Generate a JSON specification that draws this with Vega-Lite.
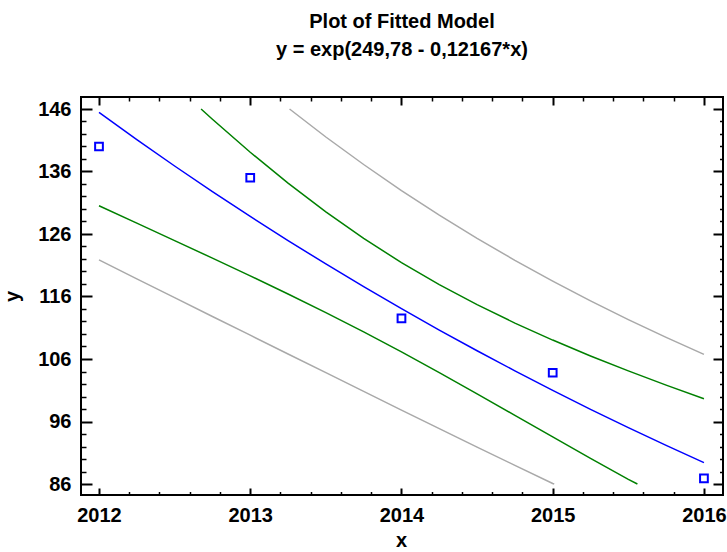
{
  "$schema": "https://vega.github.io/schema/vega-lite/v6.json",
  "width": 642,
  "height": 398,
  "autosize": {"type": "none"},
  "padding": {"left": 81, "top": 97, "right": 4, "bottom": 55},
  "background": "white",
  "title": {
    "text": ["Plot of Fitted Model", "y = exp(249,78 - 0,12167*x)"],
    "anchor": "middle",
    "frame": "group",
    "font": "Liberation Sans",
    "fontSize": 20,
    "fontWeight": "bold",
    "color": "black",
    "lineHeight": 28,
    "offset": 36
  },
  "config": {
    "view": {"stroke": "black", "strokeWidth": 2},
    "axis": {
      "domain": false,
      "grid": false,
      "labelFont": "Liberation Sans",
      "labelFontSize": 20,
      "labelFontWeight": "bold",
      "labelColor": "black",
      "tickColor": "black",
      "titleFont": "Liberation Sans",
      "titleFontSize": 20,
      "titleFontWeight": "bold",
      "titleColor": "black"
    }
  },
  "datasets": {
    "fit": [
      {"x": 2012.0, "y": 145.47}, {"x": 2012.25, "y": 141.11}, {"x": 2012.5, "y": 136.88},
      {"x": 2012.75, "y": 132.78}, {"x": 2013.0, "y": 128.81}, {"x": 2013.25, "y": 124.95},
      {"x": 2013.5, "y": 121.21}, {"x": 2013.75, "y": 117.58}, {"x": 2014.0, "y": 114.05},
      {"x": 2014.25, "y": 110.63}, {"x": 2014.5, "y": 107.32}, {"x": 2014.75, "y": 104.10},
      {"x": 2015.0, "y": 100.98}, {"x": 2015.25, "y": 97.95}, {"x": 2015.5, "y": 95.02},
      {"x": 2015.75, "y": 92.17}, {"x": 2016.0, "y": 89.41}
    ],
    "conf": [
      {"band": "upper", "x": 2012.675, "y": 146.0}, {"band": "upper", "x": 2012.75, "y": 144.35},
      {"band": "upper", "x": 2013.0, "y": 139.08}, {"band": "upper", "x": 2013.25, "y": 134.13},
      {"band": "upper", "x": 2013.5, "y": 129.53}, {"band": "upper", "x": 2013.75, "y": 125.30},
      {"band": "upper", "x": 2014.0, "y": 121.42}, {"band": "upper", "x": 2014.25, "y": 117.89},
      {"band": "upper", "x": 2014.5, "y": 114.69}, {"band": "upper", "x": 2014.75, "y": 111.75},
      {"band": "upper", "x": 2015.0, "y": 109.03}, {"band": "upper", "x": 2015.25, "y": 106.49},
      {"band": "upper", "x": 2015.5, "y": 104.10}, {"band": "upper", "x": 2015.75, "y": 101.82},
      {"band": "upper", "x": 2016.0, "y": 99.65},
      {"band": "lower", "x": 2012.0, "y": 130.52}, {"band": "lower", "x": 2012.25, "y": 127.73},
      {"band": "lower", "x": 2012.5, "y": 124.94}, {"band": "lower", "x": 2012.75, "y": 122.14},
      {"band": "lower", "x": 2013.0, "y": 119.30}, {"band": "lower", "x": 2013.25, "y": 116.40},
      {"band": "lower", "x": 2013.5, "y": 113.42}, {"band": "lower", "x": 2013.75, "y": 110.34},
      {"band": "lower", "x": 2014.0, "y": 107.13}, {"band": "lower", "x": 2014.25, "y": 103.82},
      {"band": "lower", "x": 2014.5, "y": 100.42}, {"band": "lower", "x": 2014.75, "y": 96.98},
      {"band": "lower", "x": 2015.0, "y": 93.53}, {"band": "lower", "x": 2015.25, "y": 90.10},
      {"band": "lower", "x": 2015.5, "y": 86.73}, {"band": "lower", "x": 2015.56, "y": 86.0}
    ],
    "pred": [
      {"band": "upper", "x": 2013.26, "y": 146.0}, {"band": "upper", "x": 2013.5, "y": 141.52},
      {"band": "upper", "x": 2013.75, "y": 137.12}, {"band": "upper", "x": 2014.0, "y": 132.95},
      {"band": "upper", "x": 2014.25, "y": 129.02}, {"band": "upper", "x": 2014.5, "y": 125.31},
      {"band": "upper", "x": 2014.75, "y": 121.79}, {"band": "upper", "x": 2015.0, "y": 118.46},
      {"band": "upper", "x": 2015.25, "y": 115.30}, {"band": "upper", "x": 2015.5, "y": 112.30},
      {"band": "upper", "x": 2015.75, "y": 109.45}, {"band": "upper", "x": 2016.0, "y": 106.73},
      {"band": "lower", "x": 2012.0, "y": 121.86}, {"band": "lower", "x": 2012.25, "y": 118.83},
      {"band": "lower", "x": 2012.5, "y": 115.81}, {"band": "lower", "x": 2012.75, "y": 112.80},
      {"band": "lower", "x": 2013.0, "y": 109.81}, {"band": "lower", "x": 2013.25, "y": 106.80},
      {"band": "lower", "x": 2013.5, "y": 103.81}, {"band": "lower", "x": 2013.75, "y": 100.82},
      {"band": "lower", "x": 2014.0, "y": 97.83}, {"band": "lower", "x": 2014.25, "y": 94.86},
      {"band": "lower", "x": 2014.5, "y": 91.91}, {"band": "lower", "x": 2014.75, "y": 88.98},
      {"band": "lower", "x": 2015.0, "y": 86.08}, {"band": "lower", "x": 2015.01, "y": 86.0}
    ],
    "obs": [
      {"x": 2012, "y": 140.0}, {"x": 2013, "y": 135.0}, {"x": 2014, "y": 112.5},
      {"x": 2015, "y": 103.8}, {"x": 2016, "y": 86.9}
    ]
  },
  "resolve": {"axis": {"x": "independent", "y": "independent"}},
  "layer": [
    {
      "data": {"name": "pred"},
      "mark": {"type": "line", "stroke": "#A9A9A9", "strokeWidth": 1.5},
      "encoding": {
        "x": {"field": "x", "type": "quantitative",
              "scale": {"domain": [2011.881, 2016.126], "nice": false, "zero": false},
              "axis": {"orient": "bottom", "values": [2012, 2013, 2014, 2015, 2016], "format": "d",
                       "tickSize": -7, "tickWidth": 2, "labelPadding": 17.5, "labelFlush": false,
                       "title": "x", "titleX": 320, "titleY": 51, "titleAlign": "center", "titleBaseline": "alphabetic"}},
        "y": {"field": "y", "type": "quantitative",
              "scale": {"domain": [84.24, 147.92], "nice": false, "zero": false},
              "axis": {"orient": "left", "values": [86, 96, 106, 116, 126, 136, 146],
                       "tickSize": -11, "tickWidth": 2, "labelPadding": 21, "labelBaseline": "middle",
                       "title": "y", "titleX": -63, "titleY": 199, "titleAngle": 270, "titleAlign": "center", "titleBaseline": "alphabetic"}},
        "detail": {"field": "band"}
      }
    },
    {
      "data": {"name": "conf"},
      "mark": {"type": "line", "stroke": "#008000", "strokeWidth": 1.5},
      "encoding": {
        "x": {"field": "x", "type": "quantitative",
              "scale": {"domain": [2011.881, 2016.126], "nice": false, "zero": false},
              "axis": {"orient": "bottom",
                       "values": [2012.2, 2012.4, 2012.6, 2012.8, 2013.2, 2013.4, 2013.6, 2013.8, 2014.2, 2014.4, 2014.6, 2014.8, 2015.2, 2015.4, 2015.6, 2015.8],
                       "tickSize": -3.5, "tickWidth": 1.5, "labels": false, "title": null}},
        "y": {"field": "y", "type": "quantitative",
              "scale": {"domain": [84.24, 147.92], "nice": false, "zero": false},
              "axis": {"orient": "left",
                       "values": [88, 90, 92, 94, 98, 100, 102, 104, 108, 110, 112, 114, 118, 120, 122, 124, 128, 130, 132, 134, 138, 140, 142, 144],
                       "tickSize": -5, "tickWidth": 1.5, "labels": false, "title": null}},
        "detail": {"field": "band"}
      }
    },
    {
      "data": {"name": "fit"},
      "mark": {"type": "line", "stroke": "#0000FF", "strokeWidth": 1.5},
      "encoding": {
        "x": {"field": "x", "type": "quantitative",
              "scale": {"domain": [2011.881, 2016.126], "nice": false, "zero": false},
              "axis": {"orient": "top", "values": [2012, 2013, 2014, 2015, 2016],
                       "tickSize": -8, "tickWidth": 2, "labels": false, "title": null}},
        "y": {"field": "y", "type": "quantitative",
              "scale": {"domain": [84.24, 147.92], "nice": false, "zero": false},
              "axis": {"orient": "right", "values": [86, 96, 106, 116, 126, 136, 146],
                       "tickSize": -10, "tickWidth": 2, "labels": false, "title": null}}
      }
    },
    {
      "data": {"name": "obs"},
      "mark": {"type": "point", "shape": "square", "filled": false, "stroke": "#0000FF", "strokeWidth": 2, "size": 60, "opacity": 1},
      "encoding": {
        "x": {"field": "x", "type": "quantitative",
              "scale": {"domain": [2011.881, 2016.126], "nice": false, "zero": false},
              "axis": {"orient": "top",
                       "values": [2012.2, 2012.4, 2012.6, 2012.8, 2013.2, 2013.4, 2013.6, 2013.8, 2014.2, 2014.4, 2014.6, 2014.8, 2015.2, 2015.4, 2015.6, 2015.8],
                       "tickSize": -4, "tickWidth": 1.5, "labels": false, "title": null}},
        "y": {"field": "y", "type": "quantitative",
              "scale": {"domain": [84.24, 147.92], "nice": false, "zero": false},
              "axis": {"orient": "right",
                       "values": [88, 90, 92, 94, 98, 100, 102, 104, 108, 110, 112, 114, 118, 120, 122, 124, 128, 130, 132, 134, 138, 140, 142, 144],
                       "tickSize": -3.5, "tickWidth": 1.5, "labels": false, "title": null}}
      }
    }
  ]
}
